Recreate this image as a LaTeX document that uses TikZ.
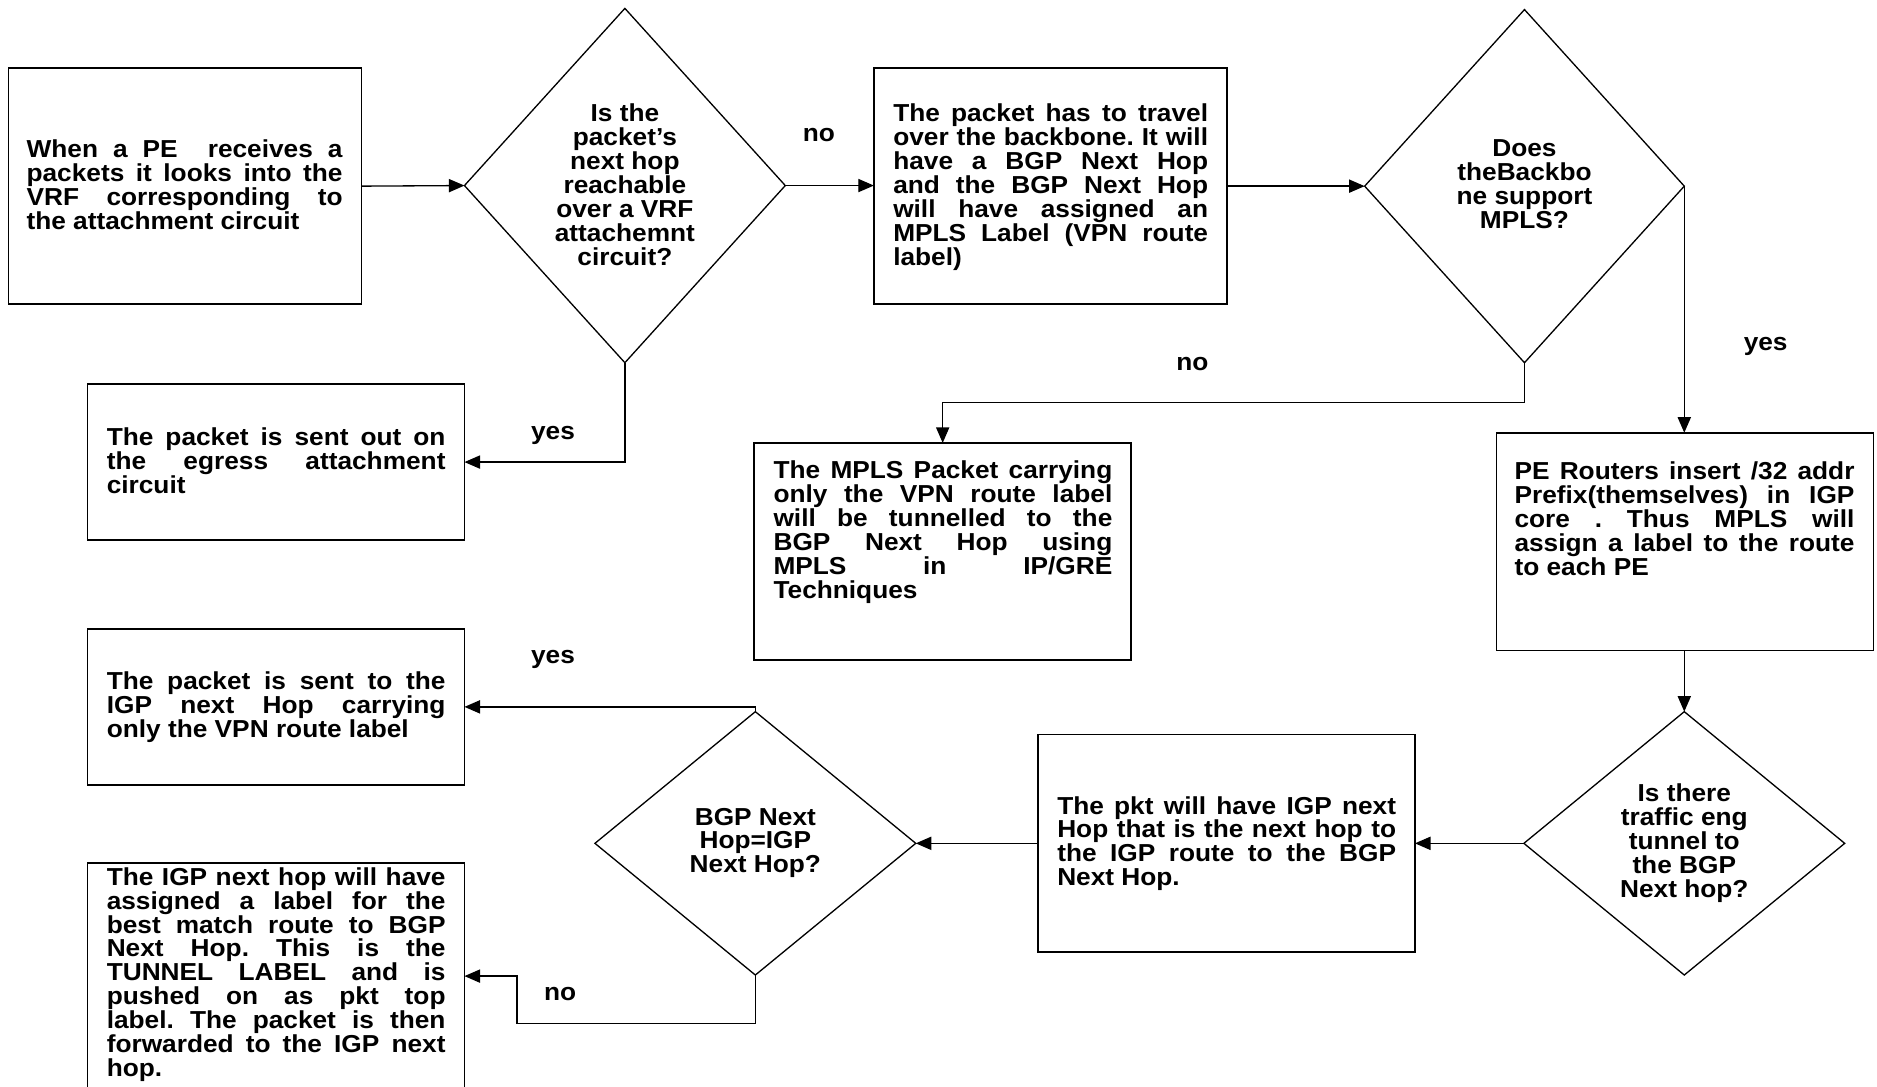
\documentclass[tikz,border=0pt]{standalone}
\usepackage{fontspec}
\setmainfont{Liberation Sans}[FakeStretch=1.07]
\usetikzlibrary{arrows.meta,shapes.geometric,calc}

% one justified line, one natural last line, one centred line
\newcommand\jline[1]{\hbox to \hsize{#1}}
\newcommand\lline[1]{\hbox{#1}}
\newcommand\cenline[1]{\hbox to \hsize{\hfil#1\hfil}}
\newcommand\fcfont{\fontsize{20.5}{20}\selectfont\bfseries\frenchspacing\lineskiplimit=-100pt\relax}

\tikzset{
  box/.style={draw, line width=1.4pt, rectangle, inner sep=0pt, outer sep=0pt},
  decision/.style={draw, line width=1.1pt, diamond, inner sep=0pt, outer sep=0pt},
  txt/.style={inner sep=0pt, anchor=base west, font=\fcfont},
  qtxt/.style={inner sep=0pt, anchor=base, font=\fcfont},
  lbl/.style={inner sep=0pt, anchor=base, font=\fcfont},
  flow/.style={line width=1.1pt, -{Triangle[length=13pt,width=11pt]}},
}

\begin{document}
\begin{tikzpicture}[x=1pt, y=-1pt]
\useasboundingbox (0,0) rectangle (1568,908);
\fill[white] (0,0) rectangle (1568,908);
\clip (0,0) rectangle (1568,908);

% ---------- boxes ----------
\node[box, minimum width=295pt, minimum height=197pt] (A)  at (154.5,155.5) {};
\node[box, minimum width=295pt, minimum height=197pt] (B)  at (877.5,155.5) {};
\node[box, minimum width=315pt, minimum height=130pt] (EG) at (230.5,386) {};
\node[box, minimum width=315pt, minimum height=181.4pt] (C) at (787.5,460.7) {};
\node[box, minimum width=315pt, minimum height=182pt] (E)  at (1407.5,452.5) {};
\node[box, minimum width=315pt, minimum height=182pt] (F)  at (1024.5,704.5) {};
\node[box, minimum width=315pt, minimum height=130pt] (G)  at (230.5,590.5) {};
\node[box, minimum width=315pt, minimum height=220pt] (H)  at (230.5,830.7) {};

% ---------- decisions ----------
\node[decision, minimum width=268pt, minimum height=296pt] (D1) at (522,155) {};
\node[decision, minimum width=267pt, minimum height=295pt] (D2) at (1273.5,155.5) {};
\node[decision, minimum width=268pt, minimum height=220pt] (D3) at (1407,704.5) {};
\node[decision, minimum width=268pt, minimum height=220pt] (D4) at (631,704.5) {};

% ---------- box texts ----------
\node[txt] (tA) at (22,131.5) {\parbox[t]{264pt}{%
  \jline{When a PE\ \ receives a}
  \jline{packets it looks into the}
  \jline{VRF corresponding to}
  \lline{the attachment circuit}}};
\node[txt] (tB) at (746,101.7) {\parbox[t]{263pt}{%
  \jline{The packet has to travel}
  \jline{over the backbone. It will}
  \jline{have a BGP Next Hop}
  \jline{and the BGP Next Hop}
  \jline{will have assigned an}
  \jline{MPLS Label (VPN route}
  \lline{label)}}};
\node[txt] (tEG) at (89,372) {\parbox[t]{283pt}{%
  \jline{The packet is sent out on}
  \jline{the egress attachment}
  \lline{circuit}}};
\node[txt] (tC) at (646,399.6) {\parbox[t]{283pt}{%
  \jline{The MPLS Packet carrying}
  \jline{only the VPN route label}
  \jline{will be tunnelled to the}
  \jline{BGP Next Hop using}
  \jline{MPLS in IP/GRE}
  \lline{Techniques}}};
\node[txt] (tE) at (1265,400.5) {\parbox[t]{284pt}{%
  \jline{PE Routers insert /32 addr}
  \jline{Prefix(themselves) in IGP}
  \jline{core . Thus MPLS will}
  \jline{assign a label to the route}
  \lline{to each PE}}};
\node[txt] (tF) at (883,680) {\parbox[t]{283pt}{%
  \jline{The pkt will have IGP next}
  \jline{Hop that is the next hop to}
  \jline{the IGP route to the BGP}
  \lline{Next Hop.}}};
\node[txt] (tG) at (89,575.7) {\parbox[t]{283pt}{%
  \jline{The packet is sent to the}
  \jline{IGP next Hop carrying}
  \lline{only the VPN route label}}};
\node[txt] (tH) at (89,739.4) {\parbox[t]{283pt}{%
  \jline{The IGP next hop will have}
  \jline{assigned a label for the}
  \jline{best match route to BGP}
  \jline{Next Hop. This is the}
  \jline{TUNNEL LABEL and is}
  \jline{pushed on as pkt top}
  \jline{label. The packet is then}
  \jline{forwarded to the IGP next}
  \lline{hop.}}};

% ---------- decision texts ----------
\node[qtxt] (qD1) at (522,101.5) {\parbox[t]{200pt}{%
  \cenline{Is the}\cenline{packet’s}\cenline{next hop}\cenline{reachable}
  \cenline{over a VRF}\cenline{attachemnt}\cenline{circuit?}}};
\node[qtxt] (qD2) at (1273.5,131) {\parbox[t]{200pt}{%
  \cenline{Does}\cenline{theBackbo}\cenline{ne support}\cenline{MPLS?}}};
\node[qtxt] (qD3) at (1407,669.7) {\parbox[t]{200pt}{%
  \cenline{Is there}\cenline{traffic eng}\cenline{tunnel to}\cenline{the BGP}\cenline{Next hop?}}};
\node[qtxt] (qD4) at (631,689.2) {\parbox[t]{200pt}{%
  \cenline{BGP Next}\cenline{Hop=IGP}\cenline{Next Hop?}}};

% ---------- connectors ----------
\coordinate (hn) at (432,815.4);
\draw[flow] (A.east) -- (D1.west);
\draw[flow] (D1.east) -- (D1.east -| B.west);
\draw[flow] (B.east) -- (B.east -| D2.west);
\draw[flow] (D1.south) |- (EG.east);
\draw[flow] (D2.south) -- ++(0,33) -| (C.north);
\draw[flow] (D2.east) -- (D2.east |- E.north);
\draw[flow] (E.south -| D3.north) -- (D3.north);
\draw[flow] (D3.west) -- (D3.west -| F.east);
\draw[flow] (F.west) -- (F.west -| D4.east);
\draw[flow] (D4.north) |- (G.east);
\draw[flow] (D4.south) -- ++(0,40.5) -| (hn) -- (hn -| H.east);

% ---------- branch labels ----------
\node[lbl] (l1) at (684,118.5) {no};
\node[lbl] (l2) at (462,367) {yes};
\node[lbl] (l3) at (996,309.5) {no};
\node[lbl] (l4) at (1475,292.4) {yes};
\node[lbl] (l5) at (462,554) {yes};
\node[lbl] (l6) at (468,835.4) {no};
\end{tikzpicture}
\end{document}
